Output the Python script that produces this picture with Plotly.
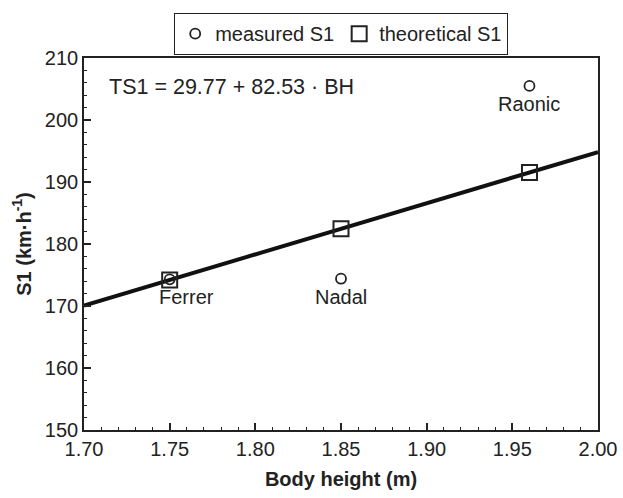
import plotly.graph_objects as go

# Data
players = ["Ferrer", "Nadal", "Raonic"]
body_height = [1.75, 1.85, 1.96]
measured_s1 = [174.3, 174.4, 205.5]
intercept = 29.77
slope = 82.53
theoretical_s1 = [intercept + slope * h for h in body_height]
line_x = [1.70, 2.00]
line_y = [intercept + slope * h for h in line_x]
label_xshift = [17, 0, 0]

x_ticks = [1.70, 1.75, 1.80, 1.85, 1.90, 1.95, 2.00]
y_ticks = [150, 160, 170, 180, 190, 200, 210]

FONT = "Liberation Sans, Arial, sans-serif"
INK = "#222222"

fig = go.Figure()
fig.add_trace(go.Scatter(
    x=line_x, y=line_y, mode="lines",
    line=dict(color="#111111", width=4), showlegend=False, hoverinfo="skip"))
fig.add_trace(go.Scatter(
    x=body_height, y=measured_s1, mode="markers", name="measured S1",
    marker=dict(symbol="circle-open", size=10, color=INK, line=dict(width=1.8))))
fig.add_trace(go.Scatter(
    x=body_height, y=theoretical_s1, mode="markers", name="theoretical S1",
    marker=dict(symbol="square-open", size=15, color=INK, line=dict(width=2))))

for name, xv, yv, dx in zip(players, body_height, measured_s1, label_xshift):
    fig.add_annotation(
        x=xv, y=yv, text=name, showarrow=False, xanchor="center", yanchor="middle",
        xshift=dx, yshift=-18, font=dict(family=FONT, size=20, color=INK))

fig.add_annotation(
    x=0.045, y=0.922, xref="paper", yref="paper", xanchor="left", yanchor="middle",
    text="TS1 = 29.77 + 82.53 · BH", showarrow=False,
    font=dict(family=FONT, size=21.5, color=INK))

axis_common = dict(
    showgrid=False, zeroline=False, showline=True, mirror=True,
    linecolor=INK, linewidth=1.6,
    ticks="inside", ticklen=7, tickwidth=1.6, tickcolor=INK,
    tickfont=dict(family=FONT, size=20, color=INK),
)

fig.update_layout(
    width=623, height=498,
    margin=dict(l=84, r=25, t=58, b=68, autoexpand=False),
    plot_bgcolor="white", paper_bgcolor="white",
    font=dict(family=FONT, color=INK),
    xaxis=dict(
        range=[1.70, 2.00], tickvals=x_ticks,
        ticktext=[f"{v:.2f}" for v in x_ticks],
        minor=dict(dtick=0.01, ticks="inside", ticklen=3.5, tickwidth=1.4, tickcolor=INK),
        title=dict(text="<b>Body height (m)</b>", font=dict(family=FONT, size=20), standoff=13),
        **axis_common),
    yaxis=dict(
        range=[150, 210], tickvals=y_ticks,
        minor=dict(dtick=2, ticks="inside", ticklen=3.5, tickwidth=1.4, tickcolor=INK),
        title=dict(text="<b>S1 (km·h<sup>-1</sup>)</b>", font=dict(family=FONT, size=20), standoff=8),
        **axis_common),
    legend=dict(
        orientation="h", x=0.5, xanchor="center", yref="container", y=0.974, yanchor="top",
        bordercolor=INK, borderwidth=1.2, bgcolor="white",
        font=dict(family=FONT, size=20, color=INK),
        itemwidth=30, tracegroupgap=0),
)

fig.write_html("out.html")
